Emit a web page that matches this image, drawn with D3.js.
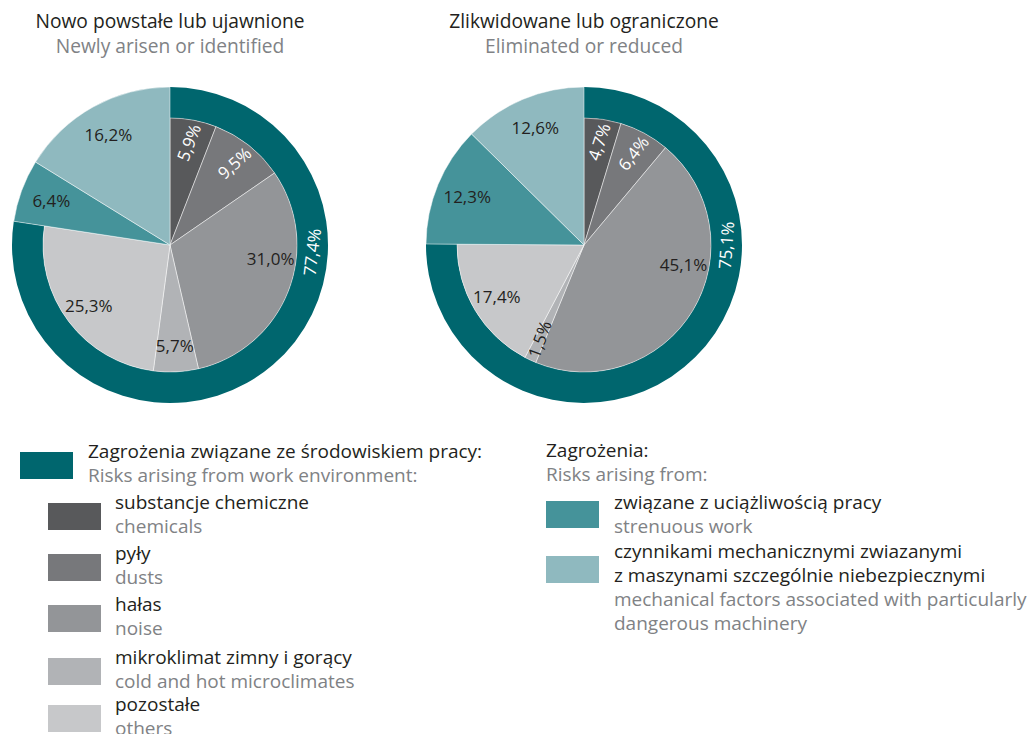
<!DOCTYPE html>
<html>
<head>
<meta charset="utf-8">
<script src="https://cdn.jsdelivr.net/npm/d3@7"></script>
<style>
  html, body { margin: 0; padding: 0; background: #fff; }
  svg { display: block; font-family: "Open Sans", sans-serif; }
</style>
</head>
<body>
<div id="chart"></div>
<script>
// Two pies: hazards newly arisen vs eliminated, with ring for work-environment total

const categoriesPl = ["substancje chemiczne", "pyły", "hałas", "mikroklimat zimny i gorący", "pozostałe",
  "związane z uciążliwością pracy", "czynnikami mechanicznymi zwiazanymi"];
const categoriesEn = ["chemicals", "dusts", "noise", "cold and hot microclimates", "others",
  "strenuous work", "mechanical factors associated with particularly"];
const newlyValues = [5.9, 9.5, 31.0, 5.7, 25.3, 6.4, 16.2];
const eliminatedValues = [4.7, 6.4, 45.1, 1.5, 17.4, 12.3, 12.6];
const envTotals = [77.4, 75.1];
const titlesPl = ["Nowo powstałe lub ujawnione", "Zlikwidowane lub ograniczone"];
const titlesEn = ["Newly arisen or identified", "Eliminated or reduced"];
const colors = ["#58595b", "#77787b", "#939598", "#b1b3b6", "#c7c8ca", "#45939a", "#8fb9bf"];
const ringColor = "#00666e";

const width = 1030, height = 734;
const R = 158, rIn = 127;
const envCount = 5;
const fmt = v => d3.format(".1f")(v).replace(".", ",") + "%";

const svg = d3.select("#chart").append("svg")
  .attr("width", width).attr("height", height);

const pies = [
  { values: newlyValues, total: envTotals[0], cx: 170, cy: 245 },
  { values: eliminatedValues, total: envTotals[1], cx: 584, cy: 245 }
];

const pie = d3.pie().sort(null).value(d => d);
const deg = r => r * 180 / Math.PI;

pies.forEach((p, pi) => {
  // titles
  svg.append("text")
    .attr("x", p.cx).attr("y", 28)
    .attr("text-anchor", "middle")
    .attr("font-size", 19.2).attr("fill", "#231f20")
    .text(titlesPl[pi]);
  svg.append("text")
    .attr("x", p.cx).attr("y", 53)
    .attr("text-anchor", "middle")
    .attr("font-size", 19.2).attr("fill", "#808285")
    .text(titlesEn[pi]);

  const g = svg.append("g").attr("transform", `translate(${p.cx},${p.cy})`);
  const arcs = pie(p.values);

  // outer ring for work environment share
  const ringEnd = p.total / 100 * 2 * Math.PI;
  g.append("path")
    .attr("d", d3.arc()({ innerRadius: rIn, outerRadius: R, startAngle: 0, endAngle: ringEnd }))
    .attr("fill", ringColor);

  g.selectAll("path.slice")
    .data(arcs)
    .join("path")
    .attr("class", "slice")
    .attr("d", (d, i) => d3.arc().innerRadius(0).outerRadius(i < envCount ? rIn : R)(d))
    .attr("fill", (d, i) => colors[i])
    .attr("stroke", "#fff")
    .attr("stroke-opacity", 0.6)
    .attr("stroke-width", 0.8);

  // slice labels
  arcs.forEach((d, i) => {
    const outer = i < envCount ? rIn : R;
    const span = d.endAngle - d.startAngle;
    const a = span > 0.3 * 2 * Math.PI ? d.startAngle + 0.38 * span : d.startAngle + span / 2;
    const radial = i < 2 || d.data < 3;
    const r = radial ? 0.82 * outer : 0.8 * outer;
    const x = r * Math.sin(a), y = -r * Math.cos(a);
    const ad = deg(a);
    const rot = radial ? (ad < 180 ? ad - 80 : ad - 275) : 0;
    g.append("text")
      .attr("transform", `translate(${x},${y}) rotate(${rot})`)
      .attr("text-anchor", "middle")
      .attr("dy", "0.35em")
      .attr("font-size", 17)
      .attr("fill", i < 2 ? "#fff" : "#231f20")
      .text(fmt(d.data));
  });

  // ring label
  const ra = ringEnd / 3;
  const rr = (rIn + R) / 2;
  g.append("text")
    .attr("transform", `translate(${rr * Math.sin(ra)},${-rr * Math.cos(ra)}) rotate(${deg(ra) - 176})`)
    .attr("text-anchor", "middle")
    .attr("dy", "0.35em")
    .attr("font-size", 17)
    .attr("fill", "#fff")
    .text(fmt(p.total));
});

// legend
const dark = "#231f20", grey = "#808285", fs = 19;
function legendText(x, y, lines) {
  lines.forEach((l, k) => {
    svg.append("text")
      .attr("x", x).attr("y", y + k * 24)
      .attr("font-size", fs)
      .attr("fill", l[1])
      .text(l[0]);
  });
}

svg.append("rect").attr("x", 20).attr("y", 452).attr("width", 53).attr("height", 27).attr("fill", ringColor);
legendText(88, 458, [["Zagrożenia związane ze środowiskiem pracy:", dark], ["Risks arising from work environment:", grey]]);

const envTop = [503, 554, 605, 658, 705];
d3.range(envCount).forEach(i => {
  svg.append("rect").attr("x", 48).attr("y", envTop[i]).attr("width", 53).attr("height", 27).attr("fill", colors[i]);
  legendText(115, envTop[i] + 6, [[categoriesPl[i], dark], [categoriesEn[i], grey]]);
});

legendText(546, 457, [["Zagrożenia:", dark], ["Risks arising from:", grey]]);
svg.append("rect").attr("x", 546).attr("y", 501).attr("width", 53).attr("height", 27).attr("fill", colors[5]);
legendText(614, 509, [[categoriesPl[5], dark], [categoriesEn[5], grey]]);
svg.append("rect").attr("x", 546).attr("y", 556).attr("width", 53).attr("height", 27).attr("fill", colors[6]);
legendText(614, 558, [[categoriesPl[6], dark], ["z maszynami szczególnie niebezpiecznymi", dark],
  [categoriesEn[6], grey], ["dangerous machinery", grey]]);
</script>
</body>
</html>
